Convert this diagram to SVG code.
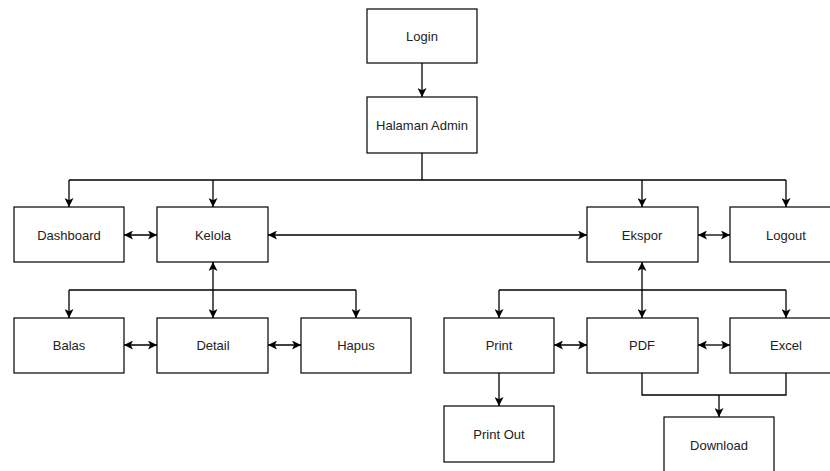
<svg xmlns="http://www.w3.org/2000/svg" width="830" height="471" viewBox="0 0 830 471">
<defs>
<marker id="arr" viewBox="0 0 10 10" refX="10" refY="5" markerWidth="9" markerHeight="9" markerUnits="userSpaceOnUse" orient="auto-start-reverse">
<path d="M0,0 L10,5 L0,10 L2.5,5 z" fill="#000"/>
</marker>
<style>
.box{fill:#fff;stroke:#000;stroke-width:1.2}
.lbl{font-family:"Liberation Sans",Arial,sans-serif;font-size:13px;fill:#222;text-anchor:middle;dominant-baseline:central}
.c{fill:none;stroke:#000;stroke-width:1.3}
.e{marker-end:url(#arr)}
.b{marker-start:url(#arr);marker-end:url(#arr)}
</style>
</defs>
<rect width="830" height="471" fill="#fff"/>
<g id="connectors">
<path class="c e" d="M422,63 V97"/>
<path class="c" d="M422,153 V180 M69,180 H786"/>
<path class="c e" d="M69,180 V207"/>
<path class="c e" d="M213,180 V207"/>
<path class="c e" d="M642,180 V207"/>
<path class="c e" d="M786,180 V207"/>
<path class="c b" d="M124,235 H157"/>
<path class="c b" d="M268,235 H587"/>
<path class="c b" d="M698,235 H730"/>
<path class="c b" d="M213,262 V318"/>
<path class="c" d="M69,290 H356"/>
<path class="c e" d="M69,290 V318"/>
<path class="c e" d="M356,290 V318"/>
<path class="c b" d="M124,345 H157"/>
<path class="c b" d="M268,345 H301"/>
<path class="c b" d="M642,262 V318"/>
<path class="c" d="M499,290 H786"/>
<path class="c e" d="M499,290 V318"/>
<path class="c e" d="M786,290 V318"/>
<path class="c b" d="M554,345 H587"/>
<path class="c b" d="M698,345 H730"/>
<path class="c e" d="M499,373 V406"/>
<path class="c" d="M642,373 V395 H786 V373"/>
<path class="c e" d="M719,395 V417"/>
</g>
<g id="login"><rect class="box" x="367" y="9" width="110" height="54"/><text class="lbl" x="422" y="36">Login</text></g>
<g id="halaman-admin"><rect class="box" x="367" y="97" width="110" height="56"/><text class="lbl" x="422" y="125">Halaman Admin</text></g>
<g id="dashboard"><rect class="box" x="14" y="207" width="110" height="55"/><text class="lbl" x="69" y="235">Dashboard</text></g>
<g id="kelola"><rect class="box" x="157" y="207" width="111" height="55"/><text class="lbl" x="213" y="235">Kelola</text></g>
<g id="ekspor"><rect class="box" x="587" y="207" width="111" height="55"/><text class="lbl" x="642" y="235">Ekspor</text></g>
<g id="logout"><rect class="box" x="730" y="207" width="111" height="55"/><text class="lbl" x="786" y="235">Logout</text></g>
<g id="balas"><rect class="box" x="14" y="318" width="110" height="55"/><text class="lbl" x="69" y="345">Balas</text></g>
<g id="detail"><rect class="box" x="157" y="318" width="111" height="55"/><text class="lbl" x="213" y="345">Detail</text></g>
<g id="hapus"><rect class="box" x="301" y="318" width="110" height="55"/><text class="lbl" x="356" y="345">Hapus</text></g>
<g id="print"><rect class="box" x="444" y="318" width="110" height="55"/><text class="lbl" x="499" y="345">Print</text></g>
<g id="pdf"><rect class="box" x="587" y="318" width="111" height="55"/><text class="lbl" x="642" y="345">PDF</text></g>
<g id="excel"><rect class="box" x="730" y="318" width="111" height="55"/><text class="lbl" x="786" y="345">Excel</text></g>
<g id="print-out"><rect class="box" x="444" y="406" width="110" height="56"/><text class="lbl" x="499" y="434">Print Out</text></g>
<g id="download"><rect class="box" x="664" y="417" width="110" height="56"/><text class="lbl" x="719" y="445">Download</text></g>
</svg>
